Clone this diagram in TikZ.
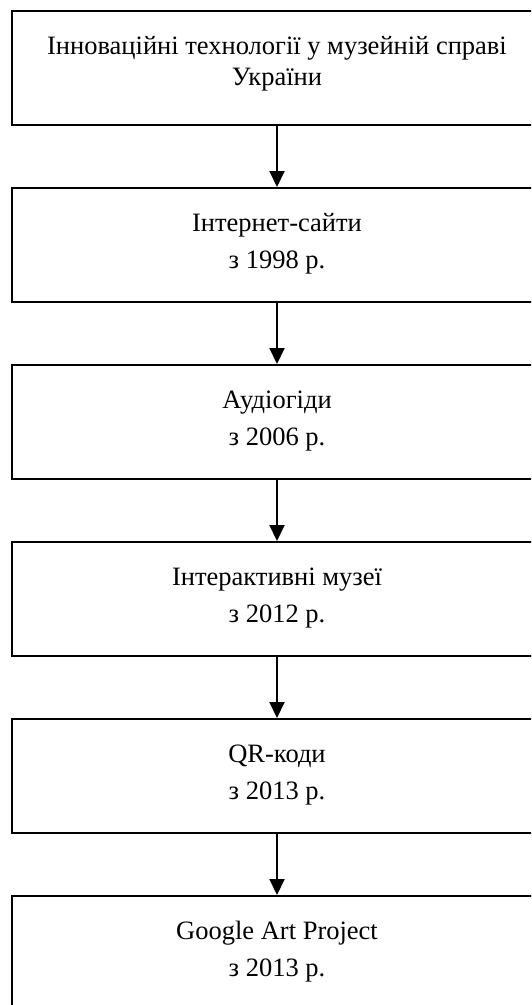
\documentclass[tikz,border=0pt]{standalone}
\usepackage{fontspec}
\setmainfont{Liberation Serif}
\usetikzlibrary{arrows.meta}
\begin{document}
\begin{tikzpicture}[x=1pt,y=-1pt,
  stagebox/.style={draw=black, line width=2pt, rectangle, inner sep=0pt,
    minimum width=548pt, minimum height=113.5pt},
  txt/.style={anchor=base, inner sep=0pt, font=\fontsize{26.5}{32}\selectfont},
  arr/.style={line width=2pt, -{Triangle[length=16pt,width=15pt]}}]
\useasboundingbox (0,0) rectangle (531,1005);
\clip (0,0) rectangle (531,1005);
\coordinate (ax) at (277,0);
% boxes: tops at 11 + 177k, height 113.5, left edge 12
\node[stagebox] (b1) at (286,67.75) {};
\node[stagebox] (b2) at (286,244.75) {};
\node[stagebox] (b3) at (286,421.75) {};
\node[stagebox] (b4) at (286,598.75) {};
\node[stagebox] (b5) at (286,775.75) {};
\node[stagebox] (b6) at (286,952.75) {};
% texts
\node[txt] (t1a) at (277,54.3) {Інноваційні технології у музейній справі};
\node[txt] (t1b) at (277,85.7) {України};
\node[txt] (t2a) at (277,231.7) {Інтернет-сайти};
\node[txt] (t2b) at (277,268.5) {з 1998 р.};
\node[txt] (t3a) at (277,408.7) {Аудіогіди};
\node[txt] (t3b) at (277,445.5) {з 2006 р.};
\node[txt] (t4a) at (277,585.7) {Інтерактивні музеї};
\node[txt] (t4b) at (277,622.5) {з 2012 р.};
\node[txt] (t5a) at (277,762.7) {QR-коди};
\node[txt] (t5b) at (277,799.5) {з 2013 р.};
\node[txt] (t6a) at (277,939.7) {Google Art Project};
\node[txt] (t6b) at (277,976.5) {з 2013 р.};
% arrows
\draw[arr] (ax |- b1.south) -- (ax |- b2.north);
\draw[arr] (ax |- b2.south) -- (ax |- b3.north);
\draw[arr] (ax |- b3.south) -- (ax |- b4.north);
\draw[arr] (ax |- b4.south) -- (ax |- b5.north);
\draw[arr] (ax |- b5.south) -- (ax |- b6.north);
\end{tikzpicture}
\end{document}
